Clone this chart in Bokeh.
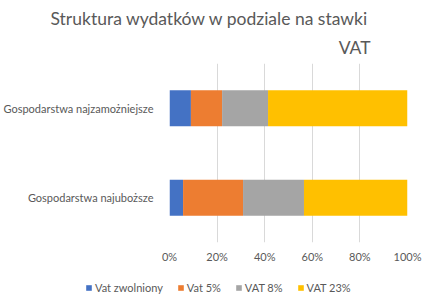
from bokeh.plotting import figure
from bokeh.models import FactorRange, Range1d, Title, Legend, FixedTicker, CustomJSTickFormatter, ColumnDataSource
from bokeh.layouts import column, row
from bokeh.embed import file_html
from bokeh.resources import INLINE

categories = ["Gospodarstwa najuboższe", "Gospodarstwa najzamożniejsze"]
series = ["Vat zwolniony", "Vat 5%", "VAT 8%", "VAT 23%"]
vat_zw = [5.7, 9.0]
vat_5 = [25.2, 13.1]
vat_8 = [25.6, 19.3]
vat_23 = [43.5, 58.6]
colors = ["#4472C4", "#ED7D31", "#A5A5A5", "#FFC000"]
title_line1 = "Struktura wydatków w podziale na stawki"
title_line2 = "VAT"

FONT = "Lato"
TXT = "#595959"

source = ColumnDataSource(dict(cat=categories, s0=vat_zw, s1=vat_5, s2=vat_8, s3=vat_23))

p = figure(frame_width=238, frame_height=179, y_range=FactorRange(*categories, range_padding=0),
           x_range=Range1d(0, 100), output_backend="svg", toolbar_location=None,
           min_border_left=166, min_border_right=22, min_border_top=63, min_border_bottom=35)

renderers = p.hbar_stack(["s0", "s1", "s2", "s3"], y="cat", height=0.4, color=colors,
                         source=source, line_width=0)

p.outline_line_color = None
p.xgrid.grid_line_color = "#D9D9D9"
p.ygrid.grid_line_color = None
p.xaxis.ticker = FixedTicker(ticks=[0, 20, 40, 60, 80, 100])
p.xaxis.formatter = CustomJSTickFormatter(code="return tick + '%';")
for ax in (p.xaxis[0], p.yaxis[0]):
    ax.axis_line_color = None
    ax.major_tick_line_color = None
    ax.minor_tick_line_color = None
    ax.major_label_text_font = FONT
    ax.major_label_text_color = TXT
    ax.major_label_text_font_size = "11px"
p.xaxis.major_label_standoff = 1
p.yaxis.major_label_standoff = 10

p.title.text = title_line1
p.title.align = "left"
p.title.offset = -119
p.title.text_font = FONT
p.title.text_font_size = "17.5px"
p.title.text_font_style = "normal"
p.title.text_color = TXT
p.title.standoff = 0
p.add_layout(Title(text=title_line2, align="right", offset=37, text_font=FONT,
                   text_font_size="17.5px", text_font_style="normal", text_color=TXT,
                   standoff=12), "above")

# legend strip below the chart (same series; renderers hidden, legend drawn normally)
lg = figure(width=426, height=24, output_backend="svg", toolbar_location=None,
            x_axis_location=None, y_axis_location=None,
            min_border_left=0, min_border_right=0, min_border_top=0, min_border_bottom=0,
            x_range=Range1d(0, 100), y_range=FactorRange(*categories))
lg.outline_line_color = None
lg.xgrid.grid_line_color = None
lg.ygrid.grid_line_color = None
lg_r = lg.hbar_stack(["s0", "s1", "s2", "s3"], y="cat", height=0.4, color=colors,
                     source=source, line_width=0)
for r in lg_r:
    r.visible = False
legend = Legend(items=[(s, [r]) for s, r in zip(series, lg_r)], orientation="horizontal",
                location=(85, 7), label_text_font=FONT, label_text_color=TXT,
                label_text_font_size="11px", glyph_width=7, glyph_height=7,
                spacing=14, label_standoff=3, border_line_color=None, background_fill_alpha=0,
                inactive_fill_alpha=0, padding=0, margin=0, label_height=12)
lg.add_layout(legend, "center")

layout = column(p, row(lg), spacing=0)
open("out.html", "w").write(file_html(layout, INLINE))
